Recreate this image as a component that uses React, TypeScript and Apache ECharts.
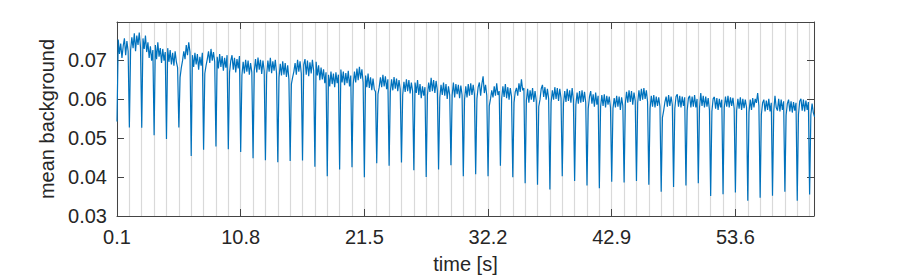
import React, { useEffect, useRef } from "react";
import * as echarts from "echarts";

// time of the first sample and period of the repeated dips [s]
const T0 = 0.1;
const PERIOD = 1.07;
const SAMPLES_PER_PERIOD = 10;
const X_END = 60.4;
const X_TICK_STEP = 10.7;
const Y_MIN = 0.03;
const Y_MAX = 0.0797;
const Y_TICK_STEP = 0.01;

// minimum value of each dip (one per period)
const dips: number[] = [
  0.0542, 0.0527, 0.0526, 0.0507, 0.0497, 0.0527, 0.0454, 0.047, 0.0478, 0.0471,
  0.0464, 0.0448, 0.0443, 0.0438, 0.0441, 0.0442, 0.0426, 0.0402, 0.0419, 0.0425,
  0.0399, 0.0435, 0.0429, 0.0437, 0.0417, 0.04, 0.0419, 0.043, 0.0402, 0.0407,
  0.0402, 0.0429, 0.0399, 0.0384, 0.038, 0.0368, 0.0402, 0.039, 0.0378, 0.0371,
  0.0388, 0.0386, 0.039, 0.038, 0.0362, 0.0374, 0.0378, 0.0384, 0.0351, 0.0356,
  0.036, 0.0339, 0.0347, 0.0352, 0.0362, 0.0339, 0.0355,
];

// background level between dips (samples following each dip)
const plateau: number[][] = [
  [0.0752, 0.0715, 0.0742, 0.0705, 0.0735, 0.0755, 0.0712, 0.0748, 0.0722],
  [0.0725, 0.0758, 0.073, 0.0768, 0.0722, 0.0762, 0.0738, 0.077, 0.0732],
  [0.0755, 0.0728, 0.0762, 0.072, 0.0745, 0.0705, 0.0735, 0.0698, 0.0725],
  [0.0738, 0.0702, 0.0745, 0.0708, 0.073, 0.0692, 0.0728, 0.0698, 0.072],
  [0.073, 0.0695, 0.0725, 0.0688, 0.0718, 0.0685, 0.0722, 0.0695, 0.068],
  [0.0655, 0.068, 0.0698, 0.0722, 0.0702, 0.0738, 0.0712, 0.0745, 0.072],
  [0.0712, 0.0682, 0.0718, 0.0688, 0.0715, 0.0675, 0.0708, 0.0685, 0.0718],
  [0.0665, 0.0685, 0.0702, 0.0722, 0.0692, 0.0728, 0.0698, 0.072, 0.0695],
  [0.0708, 0.0678, 0.0715, 0.0682, 0.071, 0.0672, 0.0705, 0.068, 0.0712],
  [0.0668, 0.0698, 0.0712, 0.0675, 0.0705, 0.0668, 0.0702, 0.0678, 0.071],
  [0.066, 0.0695, 0.0665, 0.07, 0.067, 0.0698, 0.0662, 0.0692, 0.0668],
  [0.0672, 0.0702, 0.0668, 0.0706, 0.0675, 0.07, 0.0664, 0.0698, 0.0672],
  [0.0662, 0.0698, 0.067, 0.0705, 0.0666, 0.0696, 0.0672, 0.07, 0.0665],
  [0.0655, 0.069, 0.066, 0.0696, 0.0662, 0.0692, 0.0656, 0.0686, 0.065],
  [0.0638, 0.0655, 0.067, 0.0692, 0.0662, 0.07, 0.067, 0.0696, 0.0665],
  [0.0688, 0.0702, 0.0662, 0.0698, 0.0658, 0.0694, 0.0665, 0.07, 0.0672],
  [0.0695, 0.066, 0.0686, 0.0648, 0.068, 0.065, 0.0676, 0.064, 0.0668],
  [0.0662, 0.0632, 0.067, 0.0638, 0.0665, 0.063, 0.0668, 0.064, 0.0662],
  [0.0675, 0.0642, 0.067, 0.0635, 0.0666, 0.064, 0.0672, 0.0632, 0.066],
  [0.0638, 0.067, 0.0642, 0.0678, 0.0648, 0.0682, 0.0652, 0.0676, 0.0642],
  [0.066, 0.063, 0.0665, 0.0628, 0.0655, 0.0622, 0.0652, 0.0625, 0.0618],
  [0.0612, 0.063, 0.0655, 0.063, 0.0662, 0.0632, 0.0658, 0.0625, 0.065],
  [0.0618, 0.065, 0.0622, 0.0656, 0.0626, 0.0652, 0.062, 0.0648, 0.0625],
  [0.061, 0.0644, 0.0618, 0.065, 0.062, 0.0648, 0.0614, 0.0642, 0.062],
  [0.0642, 0.0615, 0.0648, 0.061, 0.0638, 0.0602, 0.0632, 0.0608, 0.063],
  [0.061, 0.0642, 0.0618, 0.0654, 0.062, 0.0648, 0.0615, 0.0646, 0.0622],
  [0.0604, 0.0636, 0.061, 0.0642, 0.0608, 0.0638, 0.06, 0.0632, 0.061],
  [0.061, 0.0642, 0.0604, 0.0638, 0.0612, 0.0636, 0.0602, 0.0634, 0.061],
  [0.0598, 0.0632, 0.0604, 0.0638, 0.0608, 0.064, 0.061, 0.0636, 0.0612],
  [0.06, 0.063, 0.0642, 0.0608, 0.0638, 0.0658, 0.0615, 0.0636, 0.0608],
  [0.0582, 0.06, 0.0622, 0.0604, 0.0632, 0.0608, 0.064, 0.061, 0.062],
  [0.06, 0.0632, 0.0605, 0.0638, 0.0602, 0.063, 0.0598, 0.0628, 0.0605],
  [0.059, 0.0618, 0.0628, 0.0608, 0.064, 0.0618, 0.065, 0.0622, 0.0628],
  [0.0595, 0.0626, 0.059, 0.0622, 0.0598, 0.0628, 0.0592, 0.062, 0.0595],
  [0.058, 0.0598, 0.0626, 0.0636, 0.0605, 0.063, 0.0598, 0.0626, 0.06],
  [0.059, 0.0622, 0.0598, 0.063, 0.06, 0.0628, 0.0595, 0.0626, 0.0602],
  [0.0588, 0.062, 0.0592, 0.0626, 0.0595, 0.0622, 0.059, 0.0628, 0.0598],
  [0.0585, 0.0616, 0.0588, 0.062, 0.059, 0.0622, 0.0592, 0.0618, 0.059],
  [0.0575, 0.0605, 0.062, 0.0588, 0.0612, 0.058, 0.0616, 0.0585, 0.0608],
  [0.058, 0.061, 0.0582, 0.0612, 0.0578, 0.0608, 0.0585, 0.0606, 0.0578],
  [0.0575, 0.0602, 0.0578, 0.0608, 0.058, 0.0606, 0.0572, 0.0604, 0.0582],
  [0.0588, 0.0618, 0.059, 0.0622, 0.0592, 0.062, 0.0585, 0.0616, 0.0595],
  [0.059, 0.0622, 0.0595, 0.0626, 0.0598, 0.0628, 0.06, 0.0622, 0.0592],
  [0.0575, 0.0608, 0.058, 0.061, 0.0578, 0.0606, 0.0582, 0.0604, 0.058],
  [0.0552, 0.057, 0.0592, 0.0606, 0.058, 0.061, 0.0582, 0.0606, 0.0585],
  [0.0575, 0.0606, 0.0612, 0.058, 0.0608, 0.0578, 0.0606, 0.0582, 0.0604],
  [0.057, 0.0602, 0.0608, 0.0578, 0.0606, 0.058, 0.061, 0.0578, 0.06],
  [0.0578, 0.0615, 0.0582, 0.0608, 0.0578, 0.0606, 0.058, 0.0602, 0.0572],
  [0.0568, 0.06, 0.0605, 0.0575, 0.0602, 0.0572, 0.06, 0.0578, 0.0598],
  [0.0578, 0.0606, 0.058, 0.0608, 0.0578, 0.0604, 0.0582, 0.0603, 0.0575],
  [0.057, 0.06, 0.0575, 0.0604, 0.0572, 0.06, 0.0576, 0.0598, 0.0578],
  [0.0566, 0.0598, 0.0572, 0.0602, 0.0578, 0.06, 0.059, 0.0615, 0.0582],
  [0.056, 0.059, 0.0598, 0.0568, 0.0596, 0.0572, 0.06, 0.0568, 0.059],
  [0.0568, 0.0608, 0.0578, 0.057, 0.06, 0.0568, 0.0598, 0.0572, 0.0594],
  [0.0558, 0.0588, 0.0598, 0.0568, 0.0594, 0.0565, 0.0592, 0.057, 0.059],
  [0.056, 0.0594, 0.06, 0.057, 0.0598, 0.0568, 0.0596, 0.0572, 0.0592],
  [0.0558, 0.0588, 0.0565, 0.0554],
];

const FONT = "'Liberation Sans', Arial, Helvetica, sans-serif";
const TEXT = "#262626";
const FRAME = "#444444";

// x is stored as seconds after T0 so that the tick grid starts at 0
function buildData(): [number, number][] {
  const dt = PERIOD / SAMPLES_PER_PERIOD;
  const pts: [number, number][] = [];
  dips.forEach((d, k) => {
    const tk = k * PERIOD;
    pts.push([tk, d]);
    plateau[k].forEach((v, j) => pts.push([tk + (j + 1) * dt, v]));
  });
  return pts;
}

export default function App() {
  const ref = useRef<HTMLDivElement>(null);
  useEffect(() => {
    if (!ref.current) return;
    const chart = echarts.init(ref.current, undefined, { renderer: "svg" });
    const xMax = X_END - T0;
    const lineStyle = { color: FRAME, width: 1 };
    const tick = { show: true, inside: true, length: 7, lineStyle };
    const xBase = {
      type: "value" as const,
      min: 0,
      max: xMax,
      interval: X_TICK_STEP,
      splitLine: { show: false },
    };
    const yBase = {
      type: "value" as const,
      min: Y_MIN,
      max: Y_MAX,
      interval: Y_TICK_STEP,
      splitLine: { show: false },
    };
    chart.setOption({
      animation: false,
      grid: { left: 117, top: 22, width: 697, height: 201 },
      xAxis: [
        {
          ...xBase,
          position: "bottom",
          axisLine: { show: true, onZero: false, lineStyle },
          axisTick: tick,
          axisLabel: {
            formatter: (v: number) => (v + T0).toFixed(1),
            showMaxLabel: false,
            color: TEXT,
            fontSize: 20,
            fontFamily: FONT,
            margin: 11,
          },
          name: "time [s]",
          nameLocation: "middle",
          nameGap: 38,
          nameTextStyle: { color: TEXT, fontSize: 20, fontFamily: FONT },
        },
        {
          ...xBase,
          position: "top",
          axisLine: { show: true, onZero: false, lineStyle },
          axisTick: tick,
          axisLabel: { show: false },
        },
        {
          type: "value",
          min: 0,
          max: xMax,
          interval: PERIOD,
          position: "bottom",
          axisLine: { show: false, onZero: false },
          axisTick: { show: false },
          axisLabel: { show: false },
          splitLine: { show: true, lineStyle: { color: "#d9d9d9", width: 1.2 } },
        },
      ],
      yAxis: [
        {
          ...yBase,
          position: "left",
          axisLine: { show: true, onZero: false, lineStyle },
          axisTick: tick,
          axisLabel: {
            formatter: (v: number) => v.toFixed(2),
            showMaxLabel: false,
            color: TEXT,
            fontSize: 20,
            fontFamily: FONT,
            margin: 10,
          },
          name: "mean background",
          nameLocation: "middle",
          nameGap: 55,
          nameRotate: 90,
          nameTextStyle: { color: TEXT, fontSize: 20, fontFamily: FONT },
        },
        {
          ...yBase,
          position: "right",
          axisLine: { show: true, onZero: false, lineStyle },
          axisTick: tick,
          axisLabel: { show: false },
        },
      ],
      series: [
        {
          type: "line",
          xAxisIndex: 0,
          yAxisIndex: 0,
          data: buildData(),
          symbol: "none",
          showSymbol: false,
          lineStyle: { color: "#0072BD", width: 1.2 },
          z: 5,
        },
      ],
    });
    return () => chart.dispose();
  }, []);
  return (
    <div
      ref={ref}
      style={{ position: "fixed", left: 0, top: 0, width: 899, height: 279, background: "#ffffff" }}
    />
  );
}
